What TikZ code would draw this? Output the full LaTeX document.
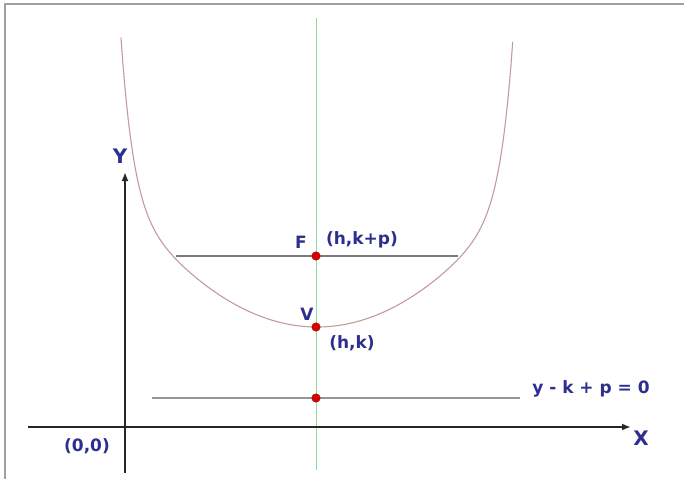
\documentclass[tikz,border=0pt]{standalone}
\usepackage{fontspec}
\setmainfont{DejaVu Sans}
\usetikzlibrary{arrows.meta}
\definecolor{navy}{HTML}{2E2E90}
\definecolor{curvec}{HTML}{C49A9A}
\definecolor{greenl}{HTML}{8FDDA0}
\definecolor{frameg}{HTML}{A0A0A0}
\definecolor{lineg}{HTML}{7A7A7A}
\begin{document}
\begin{tikzpicture}[x=1pt,y=-1pt,
  lbl/.style={text=navy,font=\bfseries\fontsize{17}{19}\selectfont,inner sep=0pt},
  axlbl/.style={text=navy,font=\bfseries\fontsize{20}{22}\selectfont,inner sep=0pt},
  axis/.style={line width=2.8pt,black!85,-{Latex[length=9pt,width=7pt]}},
  dot/.style={circle,fill=red!85!black,draw=red!60!black,line width=0.4pt,minimum size=8.5pt,inner sep=0pt},
  guide/.style={line width=1.6pt,lineg}]
\useasboundingbox (0,0) rectangle (684,479);
% frame
\draw[frameg,line width=1.6pt] (5,479) -- (5,4) -- (684,4);
% symmetry axis
\coordinate (gtop) at (316,18);
\coordinate (gbot) at (316,470);
\draw[greenl,line width=1pt] (gtop) -- (gbot);
% parabola-like curve
\draw[curvec,line width=1.1pt] plot[domain=-1:1,samples=240,smooth]
  ({317+196*\x},{327-(129.3*\x*\x+160*(max(abs(\x),0.01))^16)});
% focus chord and directrix
\coordinate (fl) at (176,256);
\coordinate (fr) at (458,256);
\draw[guide] (fl) -- (fr);
\coordinate (dl) at (152,398);
\coordinate (dr) at (520,398);
\draw[guide,line width=1.4pt,lineg!80] (dl) -- (dr);
% axes
\coordinate (xs) at (28,427);
\coordinate (xe) at (631,427);
\coordinate (ys) at (125,473);
\coordinate (ye) at (125,172);
\draw[axis] (xs) -- (xe);
\draw[axis] (ys) -- (ye);
% points
\node[dot] (F) at (316,256) {};
\node[dot] (V) at (316,327) {};
\node[dot] (D) at (316,398) {};
% labels
\node[axlbl] (Y) at (120,156) {Y};
\node[axlbl] (X) at (641,438) {X};
\node[lbl] (O) at (87,446) {(0,0)};
\node[lbl] (Fl) at (301,242) {F};
\node[lbl] (Fc) at (362,240) {(h,k+p)};
\node[lbl] (Vl) at (307,314) {V};
\node[lbl] (Vc) at (352,343) {(h,k)};
\node[lbl] (Dl) at (591,389) {y - k + p = 0};
\end{tikzpicture}
\end{document}
